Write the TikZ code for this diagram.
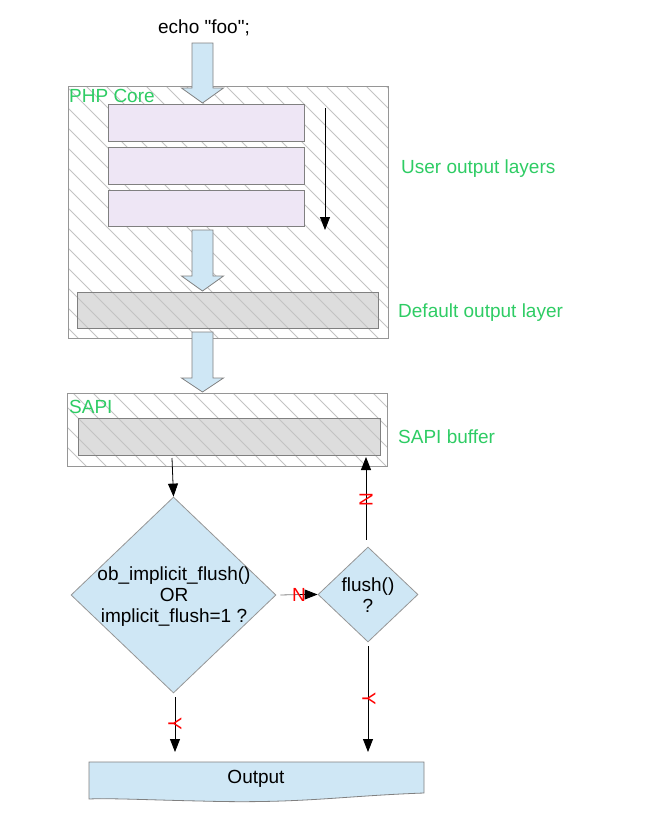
\documentclass[tikz,border=0pt]{standalone}
\usepackage{fontspec}
\setmainfont{Liberation Sans}[Ligatures=TeXOff]
\usetikzlibrary{shapes.geometric,arrows.meta}
\definecolor{lblgreen}{RGB}{46,204,100}
\definecolor{paleblue}{RGB}{207,231,245}
\definecolor{palepurple}{RGB}{238,230,245}
\definecolor{layergray}{RGB}{221,221,221}
\definecolor{hatchgray}{RGB}{195,195,195}
\definecolor{boxgray}{RGB}{150,150,150}
\newcommand\hatchbox[4]{%
  \begin{scope}
    \clip (#1,#2) rectangle (#3,#4);
    \foreach \c in {-900,-880,...,700} \draw[hatchline] (\c,0) -- ++(900,900);
  \end{scope}}
\newcommand\blkarrow[4]{%
  \draw[blockarrow] (#1-10.5,#2) -- (#1+10.5,#2) -- (#1+10.5,#3) -- (#1+21,#3)
    -- (#1,#4) -- (#1-21,#3) -- (#1-10.5,#3) -- cycle;}
\begin{document}
\begin{tikzpicture}[x=1pt,y=-1pt,
  every node/.style={font=\fontsize{19pt}{21pt}\selectfont},
  hatchline/.style={draw=hatchgray,line width=0.8pt},
  outerbox/.style={draw=boxgray,line width=0.8pt},
  userlayer/.style={draw=gray,fill=palepurple,line width=0.8pt},
  deflayer/.style={draw=gray,fill=layergray,line width=0.8pt},
  blockarrow/.style={draw=gray,fill=paleblue,line width=0.8pt},
  decision/.style={diamond,draw=boxgray,fill=paleblue,line width=0.8pt,inner sep=0pt},
  greenlbl/.style={text=lblgreen,anchor=base west,inner sep=0pt},
  flow/.style={-{Triangle[length=13pt,width=10pt]},line width=0.8pt},
  yn/.style={text=red,inner sep=0pt}]
\useasboundingbox (0,0) rectangle (669,823);

% echo
\node[anchor=base,inner sep=0pt] (echo) at (204,33) {echo "foo";};

% PHP Core box
\draw[outerbox,fill=white] (68,86) rectangle (388,338);
\hatchbox{68}{86}{388}{338}
\draw[outerbox] (68,86) rectangle (388,338);
\node[greenlbl] (php) at (69,102) {PHP Core};

\node[userlayer,minimum width=196pt,minimum height=37pt,inner sep=0pt] (ul1) at (206,122.5) {};
\node[userlayer,minimum width=196pt,minimum height=37pt,inner sep=0pt] (ul2) at (206,165.5) {};
\node[userlayer,minimum width=196pt,minimum height=36pt,inner sep=0pt] (ul3) at (206,208) {};
\coordinate (ordtop) at (325,108);
\coordinate (ordbot) at (325,230);
\draw[flow] (ordtop) -- (ordbot);

\draw[deflayer] (77,292) rectangle (378,328);
\hatchbox{77}{292}{378}{328}
\draw[draw=gray,line width=0.8pt] (77,292) rectangle (378,328);
\node[draw=none,minimum width=301pt,minimum height=36pt] (dl) at (227.5,310) {};

\blkarrow{202.5}{43}{88}{103}
\blkarrow{202.5}{230}{276}{291}
\blkarrow{202.5}{332}{378}{392}

\node[greenlbl] (lbluser) at (401,173) {User output layers};
\node[greenlbl] (lbldef) at (398,317) {Default output layer};
\node[greenlbl] (lblsapi) at (398,443) {SAPI buffer};

% SAPI box
\draw[outerbox,fill=white] (67,393) rectangle (387,466);
\hatchbox{67}{393}{387}{466}
\draw[outerbox] (67,393) rectangle (387,466);
\node[greenlbl] (sapi) at (69,413) {SAPI};
\draw[deflayer] (78,418) rectangle (380,455);
\hatchbox{78}{418}{380}{455}
\draw[draw=gray,line width=0.8pt] (78,418) rectangle (380,455);
\coordinate (bufout) at (172,458);
\coordinate (bufin) at (366,457);

% decisions
\node[decision,minimum width=205pt,minimum height=196pt] (d1) at (173.5,595) {};
\node[align=center,inner sep=0pt] (d1t) at (174,597) {ob\_implicit\_flush()\\OR\\implicit\_flush=1 ?};
\node[decision,minimum width=100pt,minimum height=95pt] (d2) at (368,594.5) {};
\node[align=center,inner sep=0pt] (d2t) at (368,595) {flush()\\?};

% output
\draw[blockarrow] (89,762) -- (424,762) -- (424,793)
  .. controls (340,796) and (300,804) .. (200,801)
  .. controls (150,800) and (110,798) .. (89,799) -- cycle;
\node (out) at (256,779) {Output};
\coordinate (outl) at (175,752);
\coordinate (outr) at (368,752);

% connectors
\draw[flow] (bufout) -- (d1.north);
\draw[draw=gray,line width=0.8pt] (d1.east) ++(4,0) coordinate (d1e) -- (300,594.5);
\draw[flow] (300,594.5) -- (d2.west);
\node[yn] (n1) at (299,595) {N};
\draw[flow,shorten <=7pt] (d2.north -| bufin) -- (bufin);
\node[yn,rotate=90] (n2) at (366,500) {N};
\draw[flow,shorten <=4pt] (d2.south) -- (outr);
\node[yn,rotate=-90] (y2) at (369,699) {Y};
\draw[flow,shorten <=4pt] (d1.south -| outl) -- (outl);
\node[yn,rotate=-90] (y1) at (175,724) {Y};
\end{tikzpicture}
\end{document}
